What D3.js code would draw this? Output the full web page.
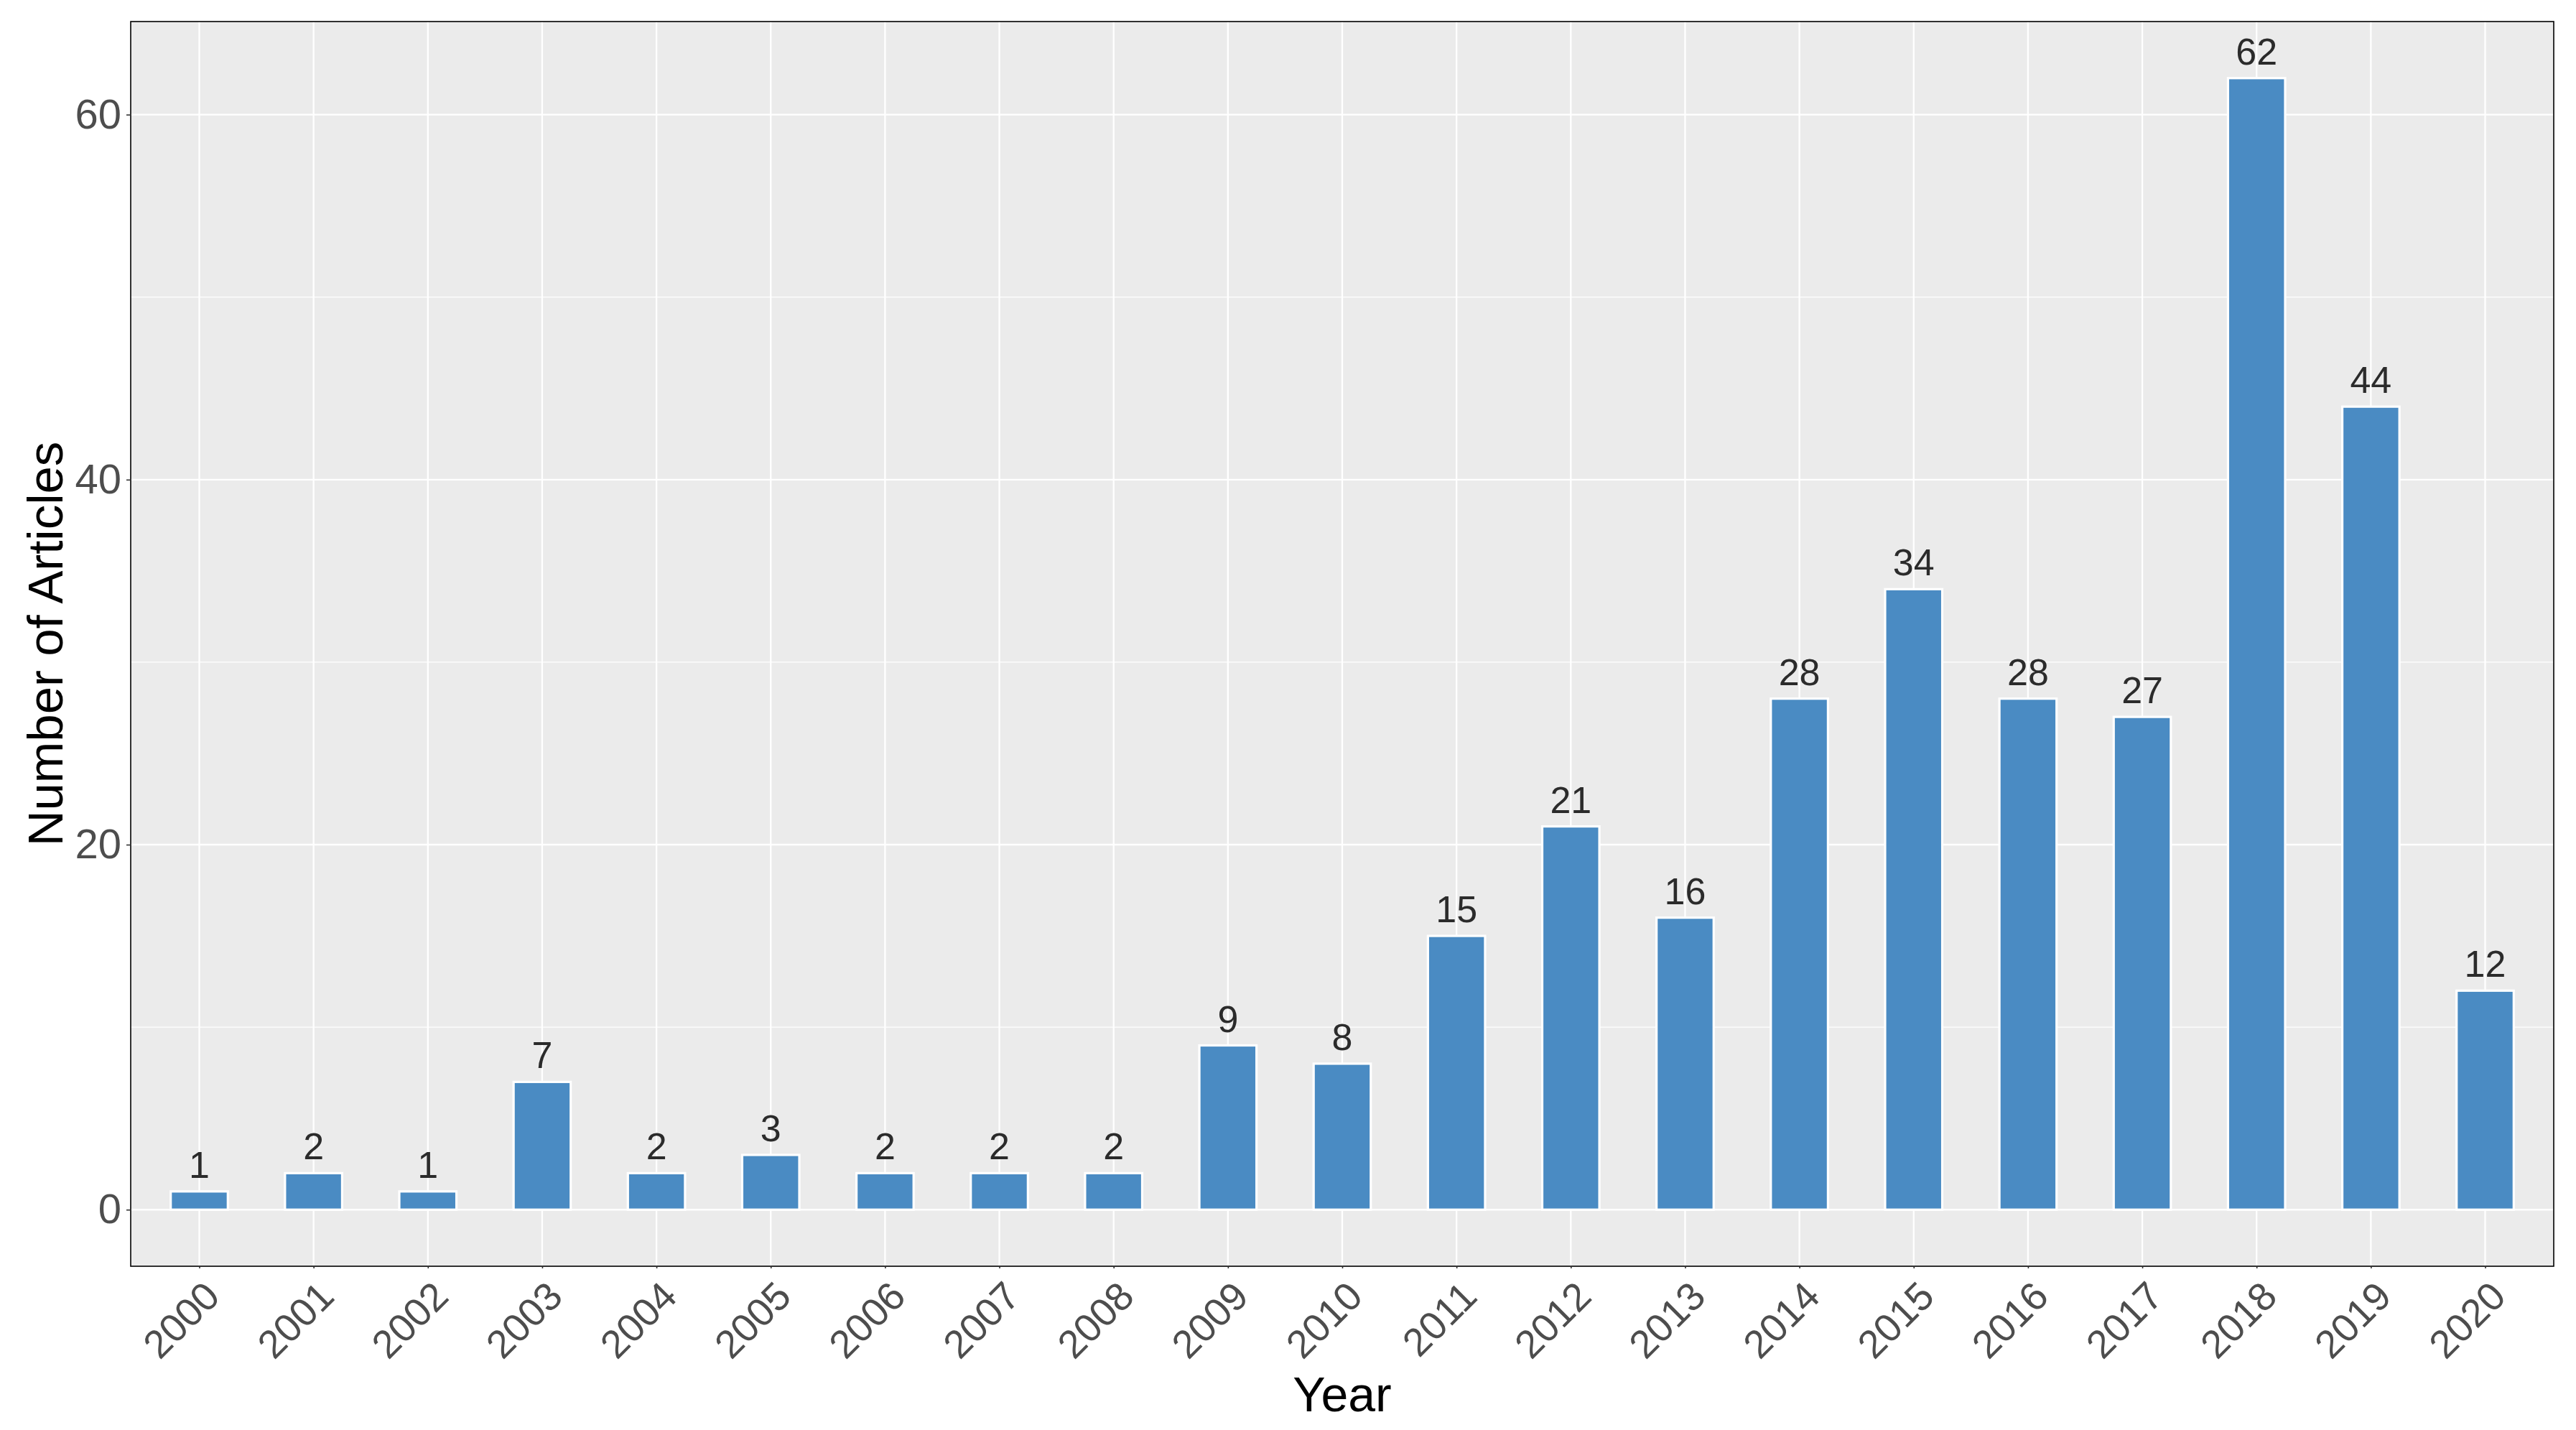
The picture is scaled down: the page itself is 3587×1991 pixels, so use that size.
<!DOCTYPE html>
<html>
<head>
<meta charset="utf-8">
<script src="https://cdn.jsdelivr.net/npm/d3@7"></script>
<style>
  body { margin: 0; background: #fff; }
  svg { display: block; }
</style>
</head>
<body>
<div id="chart"></div>
<script>
// publications per year
const years = ['2000', '2001', '2002', '2003', '2004', '2005', '2006', '2007', '2008', '2009', '2010',
  '2011', '2012', '2013', '2014', '2015', '2016', '2017', '2018', '2019', '2020'];
const counts = [1, 2, 1, 7, 2, 3, 2, 2, 2, 9, 8, 15, 21, 16, 28, 34, 28, 27, 62, 44, 12];
const yTicks = [0, 20, 40, 60];
const yMinor = [10, 30, 50];

const width = 3587;
const height = 1991;
const marginTop = 30;
const marginRight = 31;
const marginBottom = 228;
const marginLeft = 182;

const barColor = '#4A8BC3';
const panelColor = '#EBEBEB';
const font = '"Liberation Sans", Arial, sans-serif';

const data = years.map((year, i) => ({ year, value: counts[i] }));

const xScale = d3
  .scalePoint()
  .domain(years)
  .range([marginLeft, width - marginRight])
  .padding(0.6);

// ggplot style 5% expansion around [0, max]
const maxY = d3.max(counts);
const yScale = d3
  .scaleLinear()
  .domain([-0.05 * maxY, maxY * 1.05])
  .range([height - marginBottom, marginTop]);

const barWidth = xScale.step() * 0.5;

const svg = d3
  .select('#chart')
  .append('svg')
  .attr('width', width)
  .attr('height', height)
  .attr('viewBox', [0, 0, width, height]);

svg
  .append('rect')
  .attr('x', marginLeft)
  .attr('y', marginTop)
  .attr('width', width - marginLeft - marginRight)
  .attr('height', height - marginTop - marginBottom)
  .attr('fill', panelColor);

// grid
const grid = svg.append('g').attr('stroke', '#fff');

grid
  .selectAll('.minor')
  .data(yMinor)
  .join('line')
  .attr('class', 'minor')
  .attr('x1', marginLeft)
  .attr('x2', width - marginRight)
  .attr('y1', (d) => yScale(d))
  .attr('y2', (d) => yScale(d))
  .attr('stroke-width', 1.2);

grid
  .selectAll('.major-y')
  .data(yTicks)
  .join('line')
  .attr('class', 'major-y')
  .attr('x1', marginLeft)
  .attr('x2', width - marginRight)
  .attr('y1', (d) => yScale(d))
  .attr('y2', (d) => yScale(d))
  .attr('stroke-width', 2.3);

grid
  .selectAll('.major-x')
  .data(years)
  .join('line')
  .attr('class', 'major-x')
  .attr('x1', (d) => xScale(d))
  .attr('x2', (d) => xScale(d))
  .attr('y1', marginTop)
  .attr('y2', height - marginBottom)
  .attr('stroke-width', 2.3);

// bars
svg
  .append('g')
  .selectAll('rect')
  .data(data)
  .join('rect')
  .attr('x', (d) => xScale(d.year) - barWidth / 2)
  .attr('y', (d) => yScale(d.value))
  .attr('width', barWidth)
  .attr('height', (d) => yScale(0) - yScale(d.value))
  .attr('fill', barColor)
  .attr('stroke', '#fff')
  .attr('stroke-width', 3.2);

// value labels
svg
  .append('g')
  .selectAll('text')
  .data(data)
  .join('text')
  .attr('x', (d) => xScale(d.year))
  .attr('y', (d) => yScale(d.value) - 19)
  .attr('text-anchor', 'middle')
  .attr('fill', '#2b2b2b')
  .style('font-family', font)
  .style('font-size', '52px')
  .text((d) => d.value);

// panel border
svg
  .append('rect')
  .attr('x', marginLeft)
  .attr('y', marginTop)
  .attr('width', width - marginLeft - marginRight)
  .attr('height', height - marginTop - marginBottom)
  .attr('fill', 'none')
  .attr('stroke', '#000')
  .attr('stroke-width', 1.6);

// y axis
const gy = svg
  .append('g')
  .attr('transform', `translate(${marginLeft},0)`)
  .call(d3.axisLeft(yScale).tickValues(yTicks).tickSizeInner(6).tickSizeOuter(0).tickPadding(7));
gy.select('.domain').remove();
gy.selectAll('.tick line').attr('stroke', '#333').attr('stroke-width', 1.6);
gy.selectAll('.tick text')
  .attr('fill', '#4D4D4D')
  .style('font-family', font)
  .style('font-size', '58px');

// x axis
const gx = svg
  .append('g')
  .attr('transform', `translate(0,${height - marginBottom})`)
  .call(d3.axisBottom(xScale).tickSizeInner(3).tickSizeOuter(0).tickPadding(0));
gx.select('.domain').remove();
gx.selectAll('.tick line').attr('stroke', '#333').attr('stroke-width', 1.6);
gx.selectAll('.tick text')
  .attr('fill', '#4D4D4D')
  .attr('text-anchor', 'end')
  .attr('y', 0)
  .attr('dy', 0)
  .attr('transform', 'translate(3,17) rotate(-45)')
  .attr('dy', '0.72em')
  .style('font-family', font)
  .style('font-size', '55px');

// axis titles
svg
  .append('text')
  .attr('x', (marginLeft + width - marginRight) / 2)
  .attr('y', 1965)
  .attr('text-anchor', 'middle')
  .attr('fill', '#000')
  .style('font-family', font)
  .style('font-size', '68px')
  .text('Year');

svg
  .append('text')
  .attr('transform', `translate(87,${(marginTop + height - marginBottom) / 2}) rotate(-90)`)
  .attr('text-anchor', 'middle')
  .attr('fill', '#000')
  .style('font-family', font)
  .style('font-size', '69px')
  .text('Number of Articles');
</script>
</body>
</html>
